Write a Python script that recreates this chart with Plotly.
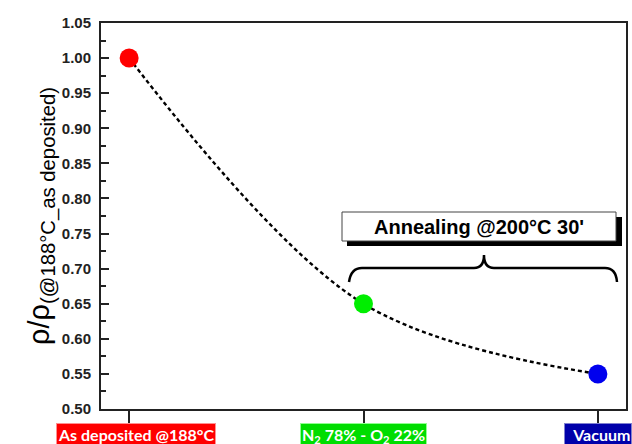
import plotly.graph_objects as go

# ---- data ----
categories = ["As deposited @188°C", "N<sub>2</sub> 78% - O<sub>2</sub> 22%", "Vacuum"]
x_pos = [1, 2, 3]
rho_ratio = [1.00, 0.65, 0.55]
point_colors = ["#ff0000", "#00ee00", "#0000ee"]
label_bg = ["#ff0000", "#00dd00", "#0000aa"]
label_glow = ["#ff9090", "#90ff90", "#8080d0"]
y_ticks = [0.50, 0.55, 0.60, 0.65, 0.70, 0.75, 0.80, 0.85, 0.90, 0.95, 1.00, 1.05]

W, H = 632, 444
L, R, T, B = 101, 626, 23, 409


def px(x):
    return (x - L) / (R - L)


def py(y):
    return (B - y) / (B - T)


fig = go.Figure()
fig.add_trace(go.Scatter(
    x=x_pos, y=rho_ratio, mode="lines",
    line=dict(shape="spline", smoothing=1.0, color="black", width=2.4, dash="4px,3px"),
    hoverinfo="skip", showlegend=False))
fig.add_trace(go.Scatter(
    x=x_pos, y=rho_ratio, mode="markers",
    marker=dict(size=19, color=point_colors, line=dict(width=0)),
    showlegend=False))

shapes = []
# shadow + box for annealing label
shapes.append(dict(type="rect", xref="paper", yref="paper",
                   x0=px(347), x1=px(622), y0=py(246), y1=py(217),
                   fillcolor="black", line=dict(width=0), layer="above"))
shapes.append(dict(type="rect", xref="paper", yref="paper",
                   x0=px(342), x1=px(616), y0=py(241), y1=py(212),
                   fillcolor="white", line=dict(width=1, color="#444"), layer="above"))
# curly brace
pts = {
    "l": (349, 282), "lc": (351, 268), "l2": (362, 268),
    "m1": (474, 268), "mc": (484, 268), "m": (484, 255),
    "m2": (494, 268), "r2": (605, 268), "rc": (616, 268), "r": (617, 282),
}


def P(k):
    x, y = pts[k]
    return f"{px(x):.5f},{py(y):.5f}"


path = (f"M {P('l')} Q {P('lc')} {P('l2')} L {P('m1')} Q {P('mc')} {P('m')} "
        f"Q {P('mc')} {P('m2')} L {P('r2')} Q {P('rc')} {P('r')}")
shapes.append(dict(type="path", xref="paper", yref="paper", path=path,
                   line=dict(color="black", width=2.5), layer="above"))

annotations = [dict(
    x=px(479), y=py(226.5), xref="paper", yref="paper",
    text="<b>Annealing @200°C 30'</b>", showarrow=False,
    font=dict(family="Liberation Sans, Arial", size=20, color="black"),
    xanchor="center", yanchor="middle")]

label_shift = [7, 0, 0]
label_pad = ["", "", "&nbsp;&nbsp;"]
for xv, lab, bg, gl, sh, pad in zip(x_pos, categories, label_bg, label_glow, label_shift, label_pad):
    annotations.append(dict(
        x=xv, y=py(423), xref="x", yref="paper", yanchor="top", xanchor="center",
        xshift=sh,
        text=f"<b>{pad}{lab}</b>", showarrow=False,
        font=dict(family="Lato, Open Sans, sans-serif", size=16, color="white"),
        bgcolor=bg, borderpad=1, bordercolor=gl, borderwidth=1))

fig.update_layout(
    width=W, height=H,
    margin=dict(l=L, r=W - R, t=T, b=H - B, autoexpand=False),
    paper_bgcolor="white", plot_bgcolor="white",
    shapes=shapes, annotations=annotations,
    xaxis=dict(range=[0.88, 3.12], tickvals=x_pos, ticktext=["", "", ""],
               ticks="outside", ticklen=13, tickwidth=2, tickcolor="#222",
               showline=True, linecolor="#222", linewidth=2, mirror=True,
               showgrid=False, zeroline=False, fixedrange=True),
    yaxis=dict(range=[0.50, 1.05], tickvals=y_ticks,
               ticktext=[f"{v:.2f}" for v in y_ticks],
               ticks="inside", ticklen=8, tickwidth=1.5, tickcolor="#222",
               minor=dict(ticks="inside", ticklen=5, dtick=0.025, tickwidth=1.5, tickcolor="#222"),
               tickfont=dict(family="Liberation Sans, Arial", size=15, color="#222", weight="bold"),
               ticklabelstandoff=5,
               showline=True, linecolor="#222", linewidth=2, mirror=True,
               showgrid=False, zeroline=False,
               title=dict(text="ρ/ρ<sub>(@188°C_as deposited)</sub>",
                          font=dict(family="Liberation Sans, Arial", size=29, color="black"),
                          standoff=4)),
)

fig.write_html("out.html", config={"displayModeBar": False},
               post_script="document.body.style.margin='0px';")
